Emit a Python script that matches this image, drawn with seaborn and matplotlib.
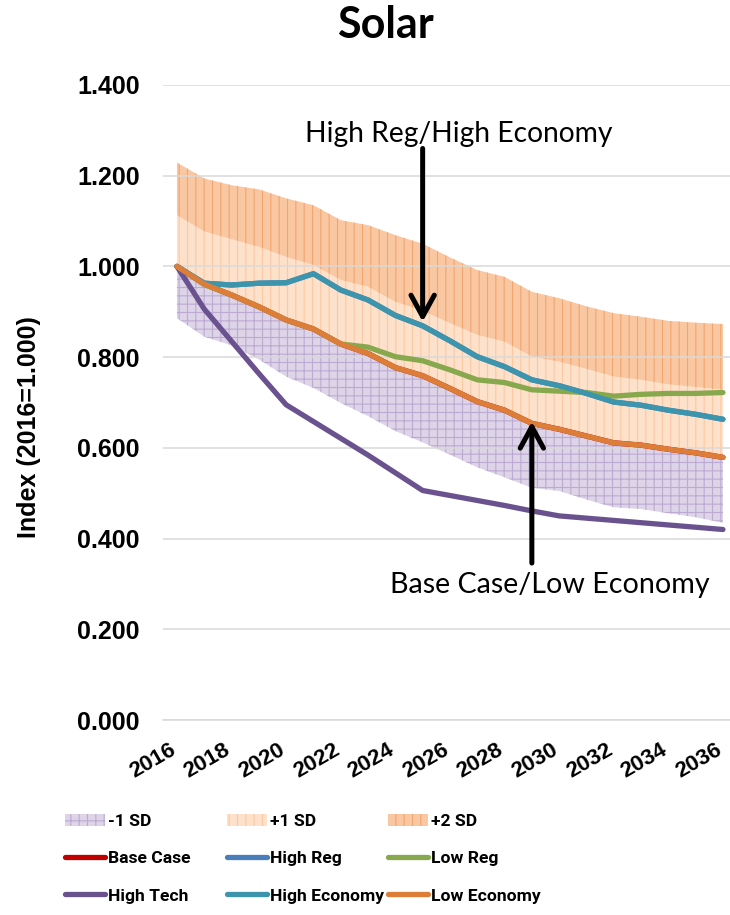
import numpy as np
import pandas as pd
import matplotlib.pyplot as plt
from matplotlib.patches import Patch
from matplotlib.lines import Line2D
import seaborn as sns

# --- Data ---
years = list(range(2016, 2037))

base_case = [1.000, 0.961, 0.937, 0.911, 0.882, 0.862, 0.829, 0.808, 0.777, 0.759, 0.731,
             0.702, 0.683, 0.654, 0.641, 0.626, 0.611, 0.606, 0.597, 0.589, 0.579]
high_reg = [1.000, 0.963, 0.959, 0.963, 0.964, 0.984, 0.948, 0.926, 0.892, 0.869, 0.836,
            0.801, 0.779, 0.750, 0.737, 0.720, 0.701, 0.694, 0.683, 0.674, 0.663]
low_reg = [1.000, 0.960, 0.937, 0.911, 0.882, 0.862, 0.829, 0.822, 0.801, 0.792, 0.772,
           0.750, 0.744, 0.728, 0.725, 0.722, 0.714, 0.718, 0.720, 0.720, 0.722]
high_tech = [1.000, 0.906, 0.835, 0.764, 0.695, 0.658, 0.621, 0.584, 0.545, 0.506, 0.495,
             0.484, 0.473, 0.461, 0.450, 0.445, 0.440, 0.435, 0.430, 0.425, 0.420]
high_economy = [1.000, 0.963, 0.959, 0.963, 0.964, 0.984, 0.948, 0.926, 0.892, 0.869, 0.836,
                0.801, 0.779, 0.750, 0.737, 0.720, 0.701, 0.694, 0.683, 0.674, 0.663]
low_economy = [1.000, 0.961, 0.937, 0.911, 0.882, 0.862, 0.829, 0.808, 0.777, 0.759, 0.731,
               0.702, 0.683, 0.654, 0.641, 0.626, 0.611, 0.606, 0.597, 0.589, 0.579]

# band edges (standard deviation envelope)
sd_minus1 = [0.886, 0.845, 0.826, 0.795, 0.757, 0.732, 0.699, 0.670, 0.637, 0.612, 0.585,
             0.557, 0.535, 0.512, 0.505, 0.486, 0.469, 0.465, 0.456, 0.447, 0.435]
sd_plus1 = [1.113, 1.077, 1.060, 1.043, 1.021, 1.003, 0.970, 0.955, 0.922, 0.902, 0.875,
            0.849, 0.834, 0.801, 0.790, 0.774, 0.757, 0.750, 0.740, 0.734, 0.728]
sd_plus2 = [1.229, 1.194, 1.179, 1.170, 1.150, 1.135, 1.102, 1.091, 1.069, 1.050, 1.020,
            0.992, 0.977, 0.944, 0.930, 0.912, 0.897, 0.889, 0.880, 0.876, 0.873]

scenarios = ['Base Case', 'High Reg', 'Low Reg', 'High Tech', 'High Economy', 'Low Economy']
scenario_values = [base_case, high_reg, low_reg, high_tech, high_economy, low_economy]
colors = {'Base Case': '#c00000', 'High Reg': '#4a7ebb', 'Low Reg': '#87a84c',
          'High Tech': '#6a528f', 'High Economy': '#3d95ad', 'Low Economy': '#dd7e38'}

band_styles = {'-1 SD': dict(facecolor='#ddd4e8', edgecolor='#bcaad3', hatch='++'),
               '+1 SD': dict(facecolor='#fde1cb', edgecolor='#fbc8a2', hatch='||'),
               '+2 SD': dict(facecolor='#f9c7a1', edgecolor='#f3a56e', hatch='||')}

# --- Styling ---
sns.set_style('white')
plt.rcParams['font.family'] = ['Liberation Sans', 'DejaVu Sans']
plt.rcParams['text.color'] = 'black'
plt.rcParams['xtick.labelcolor'] = 'black'
plt.rcParams['ytick.labelcolor'] = 'black'
plt.rcParams['hatch.linewidth'] = 0.8

W, H = 730, 915
fig = plt.figure(figsize=(W / 100, H / 100), dpi=100)
ax = fig.add_axes([163.3 / W, (H - 720) / H, 573.3 / W, 635 / H])

pos = np.arange(len(years))

# bands
ax.fill_between(pos, sd_minus1, base_case, linewidth=0, **band_styles['-1 SD'])
ax.fill_between(pos, base_case, sd_plus1, linewidth=0, **band_styles['+1 SD'])
ax.fill_between(pos, sd_plus1, sd_plus2, linewidth=0, **band_styles['+2 SD'])

# scenario lines
df = pd.DataFrame({
    'pos': np.tile(pos, len(scenarios)),
    'scenario': np.repeat(scenarios, len(years)),
    'value': np.concatenate(scenario_values),
})
sns.lineplot(data=df, x='pos', y='value', hue='scenario', hue_order=scenarios,
             palette=colors, linewidth=3.8, estimator=None, legend=False, ax=ax)
for line in ax.lines:
    line.set_solid_capstyle('round')
    line.set_solid_joinstyle('round')

# axes
ax.set_xlim(-0.5, len(years) - 0.5)
ax.set_ylim(0, 1.4)
yt = np.arange(0, 1.41, 0.2)
ax.set_yticks(yt)
ax.set_yticklabels([f'{v:.3f}' for v in yt])
ax.yaxis.grid(True, color='#d9d9d9', linewidth=1.1)
ax.set_axisbelow('line')
for s in ['top', 'right', 'left']:
    ax.spines[s].set_visible(False)
ax.spines['bottom'].set_color('#d9d9d9')
ax.spines['bottom'].set_linewidth(1.1)
ax.set_xlabel('')
ax.set_ylabel('')

ax.set_xticks(pos[::2])
ax.set_xticklabels([str(y) for y in years[::2]])
ax.set_xticks(np.arange(-0.5, len(years), 1), minor=True)
ax.tick_params(axis='x', which='major', length=0, pad=24.0, labelsize=16, labelcolor='black')
ax.tick_params(axis='x', which='minor', direction='in', length=5, width=1.1, color='#d9d9d9')
ax.tick_params(axis='y', length=0, pad=16.8, labelsize=18, labelcolor='black')
for lab in ax.get_xticklabels():
    lab.set_rotation(30)
    lab.set_ha('right')
    lab.set_va('baseline')
    lab.set_rotation_mode('anchor')
    lab.set_fontweight('bold')
for lab in ax.get_yticklabels():
    lab.set_fontweight('bold')

# texts
fig.text(385 / W, 1 - 38 / H, 'Solar', ha='center', va='baseline', color='black',
         fontsize=31, fontweight='bold', family=['Lato', 'DejaVu Sans'])
fig.text(29 / W, 1 - 427 / H, 'Index (2016=1.000)', rotation=90, ha='center', va='center',
         fontsize=18, fontweight='bold', color='black')
fig.text(305 / W, 1 - 142 / H, 'High Reg/High Economy', ha='left', va='baseline',
         fontsize=20.3, family=['Lato', 'DejaVu Sans'], color='black')
fig.text(390 / W, 1 - 592.7 / H, 'Base Case/Low Economy', ha='left', va='baseline',
         fontsize=20.6, family=['Lato', 'DejaVu Sans'], color='black')

arrow = dict(arrowstyle='->,head_length=0.55,head_width=0.3', lw=3.6, color='black',
             shrinkA=0, shrinkB=0, mutation_scale=28)
ax.annotate('', xy=(9, high_economy[9] + 0.009), xytext=(9, 1.26), arrowprops=arrow)
ax.annotate('', xy=(13, low_economy[13] + 0.004), xytext=(13, 0.346), arrowprops=arrow)

# legend, three columns
legend_cols = [
    ['-1 SD', 'Base Case', 'High Tech'],
    ['+1 SD', 'High Reg', 'High Economy'],
    ['+2 SD', 'Low Reg', 'Low Economy'],
]
col_x = [65, 227, 388]
prop = dict(family=['Roboto', 'Liberation Sans'], weight='bold', size=12.6)
for names, x in zip(legend_cols, col_x):
    handles = []
    for n in names:
        if n in band_styles:
            handles.append(Patch(linewidth=0, label=n, **band_styles[n]))
        else:
            handles.append(Line2D([], [], color=colors[n], lw=3.8, solid_capstyle='round', label=n))
    fig.legend(handles=handles, loc='upper left', bbox_to_anchor=(x / W, 1 - 814 / H),
               frameon=False, borderpad=0, borderaxespad=0, handlelength=2.3,
               handleheight=0.7, handletextpad=0.15, labelspacing=1.25, prop=prop,
               labelcolor='black')

fig.savefig('out.png', dpi=100)
